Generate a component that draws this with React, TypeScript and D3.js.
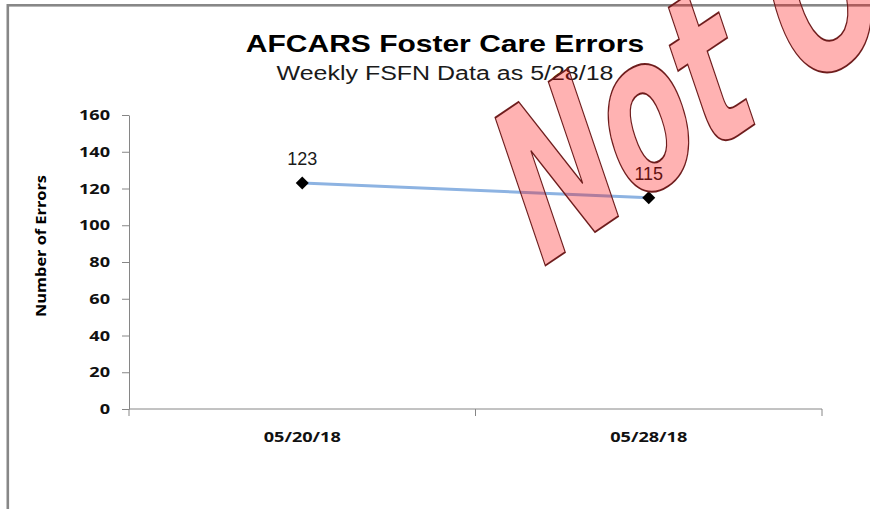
import * as d3 from "d3";
import { useEffect, useRef } from "react";

// chart values
const dates = ["05/20/18", "05/28/18"];
const errors = [123, 115];
const yTicks = [0, 20, 40, 60, 80, 100, 120, 140, 160];

const title = "AFCARS Foster Care Errors";
const subtitle = "Weekly FSFN Data as 5/28/18";
const yLabel = "Number of Errors";
const watermark = "Not Official";

const width = 870;
const height = 509;
// the source picture is stretched sideways, so most text gets widened too
const stretch = 1.25;

function FosterCareErrors() {
    const ref = useRef<SVGSVGElement>(null);

    useEffect(() => {
        const margin = { top: 115, bottom: 100, left: 129, right: 48 };
        const axisColor = "#868686";

        const svg = d3.select(ref.current);
        svg.selectAll("*").remove();

        const x = d3.scaleBand<string>()
            .domain(dates)
            .range([margin.left, width - margin.right]);

        const y = d3.scaleLinear()
            .domain([0, 160])
            .range([height - margin.bottom, margin.top]);

        const data = dates.map((d, i) => ({ date: d, value: errors[i] }));
        const cx = (d: string) => (x(d) || 0) + x.bandwidth() / 2;

        // outer frame (right and bottom edges fall outside the picture)
        svg.append("rect")
            .attr("x", 7.8)
            .attr("y", 5.3)
            .attr("width", width + 20)
            .attr("height", height + 20)
            .attr("fill", "#fff")
            .attr("stroke", "#878787")
            .attr("stroke-width", 2.6);

        // titles
        svg.append("text")
            .attr("transform", `translate(445,52) scale(${stretch},1)`)
            .attr("text-anchor", "middle")
            .attr("font-family", "'Liberation Sans', Arial, sans-serif")
            .attr("font-weight", "bold")
            .attr("font-size", 24)
            .attr("fill", "#000")
            .text(title);

        svg.append("text")
            .attr("transform", `translate(445,80) scale(${stretch},1)`)
            .attr("text-anchor", "middle")
            .attr("font-family", "'Liberation Sans', Arial, sans-serif")
            .attr("font-size", 20)
            .attr("fill", "#1a1a1a")
            .text(subtitle);

        // y axis
        const yAxis = svg.append("g")
            .attr("transform", `translate(${margin.left},0)`)
            .call(d3.axisLeft(y).tickValues(yTicks).tickSize(7).tickSizeOuter(0).tickPadding(8.2));
        yAxis.select(".domain").attr("stroke", axisColor);
        yAxis.selectAll(".tick line").attr("stroke", axisColor);
        yAxis.selectAll(".tick text")
            .attr("transform", `scale(${stretch},1)`)
            .attr("font-family", "'Open Sans', sans-serif")
            .attr("font-weight", "bold")
            .attr("font-size", 14.5)
            .attr("fill", "#111");

        // x axis: ticks on band edges, labels in the middle of each band
        const xBase = height - margin.bottom;
        const edges = [...dates.map((d) => x(d) || 0), width - margin.right];
        const xAxis = svg.append("g");
        xAxis.append("line")
            .attr("x1", margin.left)
            .attr("x2", width - margin.right)
            .attr("y1", xBase)
            .attr("y2", xBase)
            .attr("stroke", axisColor);
        xAxis.selectAll("line.tick")
            .data(edges)
            .join("line")
            .attr("class", "tick")
            .attr("x1", (d) => d)
            .attr("x2", (d) => d)
            .attr("y1", xBase)
            .attr("y2", xBase + 7)
            .attr("stroke", axisColor);
        xAxis.selectAll("text")
            .data(dates)
            .join("text")
            .attr("transform", (d) => `translate(${cx(d)},${xBase + 33}) scale(${stretch},1)`)
            .attr("text-anchor", "middle")
            .attr("font-family", "'Open Sans', sans-serif")
            .attr("font-weight", "bold")
            .attr("font-size", 14.5)
            .attr("fill", "#111")
            .text((d) => d);

        // y axis title
        svg.append("text")
            .attr("transform", `translate(46,246) rotate(-90)`)
            .attr("text-anchor", "middle")
            .attr("font-family", "'Open Sans', sans-serif")
            .attr("font-weight", "bold")
            .attr("font-size", 14)
            .attr("textLength", 142)
            .attr("lengthAdjust", "spacingAndGlyphs")
            .attr("fill", "#000")
            .text(yLabel);

        // the series line
        const line = d3.line<{ date: string; value: number }>()
            .x((d) => cx(d.date))
            .y((d) => y(d.value));

        svg.append("path")
            .datum(data)
            .attr("fill", "none")
            .attr("stroke", "#8db3e2")
            .attr("stroke-width", 3)
            .attr("d", line);

        // diamond markers
        svg.append("g")
            .selectAll("path")
            .data(data)
            .join("path")
            .attr("transform", (d) => `translate(${cx(d.date)},${y(d.value)}) rotate(45)`)
            .attr("d", d3.symbol(d3.symbolSquare, 85)())
            .attr("fill", "#000");

        // data labels
        svg.append("g")
            .selectAll("text")
            .data(data)
            .join("text")
            .attr("x", (d) => cx(d.date))
            .attr("y", (d) => y(d.value) - 18)
            .attr("text-anchor", "middle")
            .attr("font-family", "'Liberation Sans', Arial, sans-serif")
            .attr("font-size", 18)
            .attr("fill", "#1a1a1a")
            .text((d) => d.value);

        // watermark laid over everything
        svg.append("text")
            .attr("transform", "translate(535,272.5) rotate(-34) skewX(-15.3) scale(1,1.53)")
            .attr("font-family", "'DejaVu Sans', sans-serif")
            .attr("font-weight", "bold")
            .attr("font-size", 135)
            .attr("fill", "rgba(255,0,0,0.3)")
            .attr("stroke", "#6e1c1c")
            .attr("stroke-width", 1.6)
            .attr("vector-effect", "non-scaling-stroke")
            .text(watermark);
    }, []);

    return (
        <svg
            ref={ref}
            width={width}
            height={height}
            style={{ position: "absolute", left: 0, top: 0, display: "block", background: "#fff" }}
        />
    );
}

export default function App() {
    return <FosterCareErrors />;
}
